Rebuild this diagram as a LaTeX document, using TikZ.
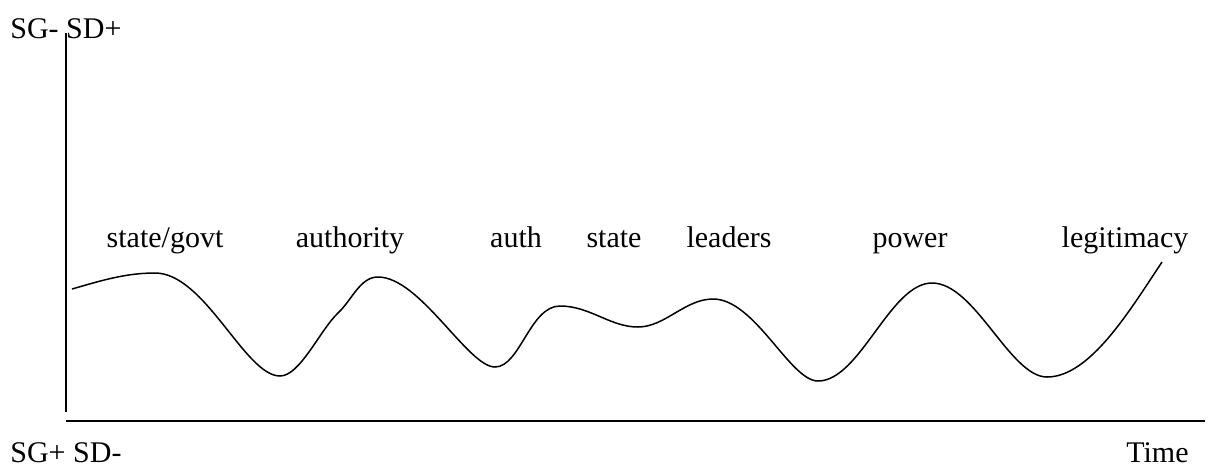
\documentclass[tikz,border=0pt]{standalone}
\usepackage{fontspec}
\setmainfont{Liberation Serif}
\tikzset{
  lbl/.style={anchor=base, inner sep=0pt, font=\fontsize{15}{18}\selectfont},
  axis/.style={line width=1pt},
  wave/.style={line width=.75pt, line join=round}
}
\begin{document}
\begin{tikzpicture}[x=.5pt, y=-.5pt]
    \useasboundingbox (0,0) rectangle (1208,467);

    \coordinate (top) at (66,33);
    \coordinate (corner) at (66,412);
    \coordinate (xstart) at (66,421);
    \coordinate (xend) at (1205,421);
    \draw[axis] (top) -- (corner);
    \draw[axis] (xstart) -- (xend);

    \node[lbl, anchor=base west] (sgminus) at (10,38) {SG- SD+};
    \node[lbl, anchor=base west] (sgplus) at (10,462) {SG+ SD-};
    \node[lbl, anchor=base east] (time) at (1189,462) {Time};

    %%%%
    \node[lbl] (stategovt) at (165,247) {state/govt};
    \node[lbl] (authority) at (350,247) {authority};
    \node[lbl] (auth) at (516,247) {auth};
    \node[lbl] (state) at (614,247) {state};
    \node[lbl] (leaders) at (729,247) {leaders};
    \node[lbl] (power) at (910,247) {power};
    \node[lbl] (legitimacy) at (1125,247) {legitimacy};

    \draw[wave] (72,289) .. controls (100,281) and (125,273) .. (155,273)
      .. controls (205,273) and (245,376) .. (280,376)
      .. controls (300,376) and (320,330) .. (338,313)
      .. controls (352,300) and (360,277) .. (378,277)
      .. controls (420,277) and (468,367) .. (495,367)
      .. controls (520,367) and (530,306) .. (560,306)
      .. controls (590,306) and (610,327) .. (638,327)
      .. controls (665,327) and (685,299) .. (713,299)
      .. controls (755,299) and (790,381) .. (818,381)
      .. controls (860,381) and (890,283) .. (932,283)
      .. controls (975,283) and (1010,377) .. (1047,377)
      .. controls (1090,377) and (1130,310) .. (1162,262);
\end{tikzpicture}
\end{document}
